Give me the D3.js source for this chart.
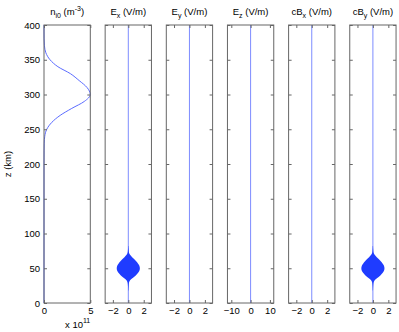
<!DOCTYPE html>
<html>
<head>
<meta charset="utf-8">
<script src="https://cdn.jsdelivr.net/npm/d3@7"></script>
<style>
  body { margin: 0; background: #fff; }
  svg text { font-family: "Liberation Sans", Arial, sans-serif; font-size: 9.5px; fill: #000; }
</style>
</head>
<body>
<div id="chart"></div>
<script>
///////////////////////////
// DATA
///////////////////////////

// ion density profile, units of 1e11 m^-3
const densityZ = [0, 100, 200, 210, 220, 230, 240, 250, 260, 270, 280, 290, 300,
    310, 320, 330, 340, 350, 360, 370, 380, 390, 400];
const densityVal = [0, 0, 0, 0.005, 0.01, 0.025, 0.08, 0.3, 0.85, 1.75, 3.0, 4.35, 5.0,
    4.65, 3.8, 2.85, 1.5, 0.65, 0.2, 0.05, 0.01, 0, 0];

// envelope of the wave packet (V/m) near z = 50 km
const packetZ = [18, 24, 28, 31, 34, 37, 40, 43, 46, 50, 54, 57, 60, 63, 66, 69, 72, 76, 82];
const exEnv = [0.02, 0.04, 0.07, 0.14, 0.36, 0.7, 1.0, 1.25, 1.42, 1.5, 1.42, 1.25, 1.02, 0.78, 0.5, 0.25, 0.1, 0.05, 0.02];
const cbyEnv = [0.02, 0.04, 0.07, 0.14, 0.36, 0.7, 1.0, 1.25, 1.42, 1.5, 1.42, 1.25, 1.02, 0.78, 0.5, 0.25, 0.1, 0.05, 0.02];

const panels = [
    { title: 'n', sub: 'i0', unit: ' (m', sup: '-3', tail: ')', domain: [0, 5], ticks: [0, 5] },
    { title: 'E', sub: 'x', unit: ' (V/m)', domain: [-3, 3], ticks: [-2, 0, 2], env: exEnv },
    { title: 'E', sub: 'y', unit: ' (V/m)', domain: [-3, 3], ticks: [-2, 0, 2] },
    { title: 'E', sub: 'z', unit: ' (V/m)', domain: [-12, 12], ticks: [-10, 0, 10] },
    { title: 'cB', sub: 'x', unit: ' (V/m)', domain: [-3, 3], ticks: [-2, 0, 2] },
    { title: 'cB', sub: 'y', unit: ' (V/m)', domain: [-3, 3], ticks: [-2, 0, 2], env: cbyEnv }
];
const zTicks = [0, 50, 100, 150, 200, 250, 300, 350, 400];

///////////////////////////
// LAYOUT
///////////////////////////

const width = 399;
const height = 332;
const plotTop = 25, plotBottom = 303;
const left0 = 44, panelW = 46.3, step = 61.15;
const axisColor = '#666';

const svg = d3.select('#chart')
    .append('svg')
    .attr('width', width)
    .attr('height', height);

const y = d3.scaleLinear().domain([0, 400]).range([plotBottom, plotTop]);

panels.forEach((p, i) => {
    const x0 = left0 + i * step;
    const x = d3.scaleLinear().domain(p.domain).range([x0, x0 + panelW]);
    const g = svg.append('g');

    // data first so the frame sits on top at the edges
    if (i === 0) {
        const line = d3.line()
            .x((d, k) => x(densityVal[k]))
            .y(d => y(d))
            .curve(d3.curveMonotoneY);
        g.append('path')
            .datum(densityZ)
            .attr('d', line)
            .attr('fill', 'none')
            .attr('stroke', '#5b6cff')
            .attr('stroke-width', 1);
    } else {
        g.append('line')
            .attr('x1', x(0)).attr('x2', x(0))
            .attr('y1', y(0)).attr('y2', y(400))
            .attr('stroke', '#7d8cff')
            .attr('stroke-width', 1);
        if (p.env) {
            const area = d3.area()
                .x0((d, k) => x(-p.env[k]))
                .x1((d, k) => x(p.env[k]))
                .y(d => y(d))
                .curve(d3.curveMonotoneY);
            g.append('path')
                .datum(packetZ)
                .attr('d', area)
                .attr('fill', '#1f3cff');
        }
    }

    // inside ticks on all four sides
    g.append('g')
        .attr('transform', `translate(0,${plotBottom})`)
        .call(d3.axisBottom(x).tickValues(p.ticks).tickSize(-3).tickPadding(4).tickFormat(d3.format('d')))
        .call(a => a.select('.domain').remove());
    g.append('g')
        .attr('transform', `translate(0,${plotTop})`)
        .call(d3.axisTop(x).tickValues(p.ticks).tickSize(-3).tickFormat(''))
        .call(a => a.select('.domain').remove());
    g.append('g')
        .attr('transform', `translate(${x0},0)`)
        .call(d3.axisLeft(y).tickValues(zTicks).tickSize(-3).tickPadding(4)
            .tickFormat(i === 0 ? d3.format('d') : ''))
        .call(a => a.select('.domain').remove());
    g.append('g')
        .attr('transform', `translate(${x0 + panelW},0)`)
        .call(d3.axisRight(y).tickValues(zTicks).tickSize(-3).tickFormat(''))
        .call(a => a.select('.domain').remove());

    g.selectAll('.tick line').attr('stroke', axisColor);
    g.selectAll('.tick text')
        .style('font-family', '"Liberation Sans", Arial, sans-serif')
        .style('font-size', '9.5px')
        .attr('fill', '#000');

    g.append('rect')
        .attr('x', x0).attr('y', plotTop)
        .attr('width', panelW).attr('height', plotBottom - plotTop)
        .attr('fill', 'none')
        .attr('stroke', axisColor)
        .attr('stroke-width', 1);

    // title
    const t = svg.append('text')
        .attr('x', x0 + panelW / 2)
        .attr('y', 15)
        .attr('text-anchor', 'middle');
    t.append('tspan').text(p.title);
    t.append('tspan').attr('dy', 2.5).style('font-size', '7px').text(p.sub);
    t.append('tspan').attr('dy', -2.5).text(p.unit);
    if (p.sup) {
        t.append('tspan').attr('dy', -4).style('font-size', '7px').text(p.sup);
        t.append('tspan').attr('dy', 4).text(p.tail);
    }
});

// exponent label under the density panel
const ex = svg.append('text').attr('x', 65).attr('y', 328);
ex.append('tspan').text('x 10');
ex.append('tspan').attr('dy', -5).style('font-size', '7px').text('11');

svg.append('text')
    .attr('transform', 'translate(11,164) rotate(-90)')
    .attr('text-anchor', 'middle')
    .text('z (km)');
</script>
</body>
</html>
